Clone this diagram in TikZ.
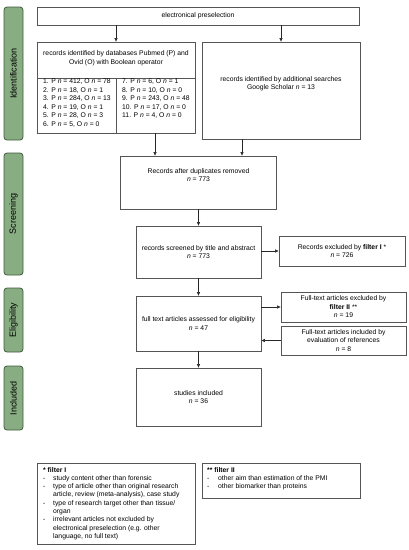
\documentclass[tikz,border=0pt]{standalone}
\usepackage{fontspec}
\setmainfont{Liberation Sans}
\usetikzlibrary{arrows.meta}
\definecolor{sidegreen}{HTML}{88AD82}
\definecolor{sideedge}{HTML}{3F5B3C}
\definecolor{boxedge}{HTML}{555555}
\begin{document}
\begin{tikzpicture}[x=1pt,y=-1pt,
 txt/.style={font=\fontsize{6.8}{8.5}\selectfont},
 box/.style={txt,draw=boxedge,line width=0.8pt,align=center,inner sep=2pt},
 side/.style={draw=sideedge,fill=sidegreen,rounded corners=3pt,line width=0.8pt,rotate=90,font=\fontsize{9}{10}\selectfont,minimum height=19pt,inner sep=0pt},
 arr/.style={-{Triangle[length=3.5pt,width=3pt]},black!85,line width=0.6pt},
 divline/.style={boxedge,line width=0.6pt}]
\useasboundingbox (0,0) rectangle (409,550);
% side bars
\node[side,minimum width=133pt] (sI) at (13.5,73.5) {Identification};
\node[side,minimum width=122pt] (sS) at (13.5,214) {Screening};
\node[side,minimum width=64pt] (sE) at (13.5,320) {Eligibility};
\node[side,minimum width=64pt] (sN) at (13.5,398) {Included};
% boxes
\node[box,minimum width=322pt,minimum height=18pt] (pre) at (198,16) {electronical preselection};
\node[box,minimum width=158pt,minimum height=91pt] (db) at (116,87.5) {};
\node[txt,align=center] (dbt) at (116,58) {records identified by databases Pubmed (P) and\\Ovid (O) with Boolean operator};
\draw[divline] (37,78) -- (195,78);
\draw[divline] (116,78) -- (116,133);
\node[txt,anchor=north west,inner sep=0pt,align=left] (l1) at (43,79) {1. P \textit{n} = 412, O \textit{n} = 78\\2. P \textit{n} = 18, O \textit{n} = 1\\3. P \textit{n} = 284, O \textit{n} = 13\\4. P \textit{n} = 19, O \textit{n} = 1\\5. P \textit{n} = 28, O \textit{n} = 3\\6. P \textit{n} = 5, O \textit{n} = 0};
\node[txt,anchor=north west,inner sep=0pt,align=left] (l2) at (122,79) {7. P \textit{n} = 6, O \textit{n} = 1\\8. P \textit{n} = 10, O \textit{n} = 0\\9. P \textit{n} = 243, O \textit{n} = 48\\10. P \textit{n} = 17, O \textit{n} = 0\\11. P \textit{n} = 4, O \textit{n} = 0};
\node[box,minimum width=158pt,minimum height=97pt] (gs) at (281,90.5) {records identified by additional searches\\Google Scholar \textit{n} = 13\\[6pt]};
\node[box,minimum width=156pt,minimum height=53pt] (dup) at (198.5,182.5) {Records after duplicates removed\\\textit{n} = 773\\[6pt]};
\node[box,minimum width=125pt,minimum height=52pt] (scr) at (198.5,252) {records screened by title and abstract\\\textit{n} = 773};
\node[box,minimum width=126pt,minimum height=30pt] (ex1) at (342,251) {Records excluded by \textbf{filter I} *\\\textit{n} = 726};
\node[box,minimum width=125pt,minimum height=55pt] (ft) at (198.5,323.5) {full text articles assessed for eligibility\\\textit{n} = 47};
\node[box,minimum width=125pt,minimum height=30pt] (ex2) at (343.5,307) {Full-text articles excluded by\\\textbf{filter II} **\\\textit{n} = 19};
\node[box,minimum width=125pt,minimum height=29pt] (inc) at (343.5,340.5) {Full-text articles included by\\evaluation of references\\\textit{n} = 8};
\node[box,minimum width=125pt,minimum height=58pt] (st) at (198.5,397) {studies included\\\textit{n} = 36};
% filter boxes
\node[box,minimum width=158pt,minimum height=81pt] (f1) at (116,503.5) {};
\node[txt,anchor=north west,inner sep=0pt,font=\fontsize{6.8}{8.3}\selectfont] (f1t) at (43,466) {\begin{tabular}{@{}p{10pt}@{}p{138pt}@{}}
\multicolumn{2}{@{}l}{\textbf{* filter I}}\\
- & study content other than forensic\\
- & type of article other than original research\newline article, review (meta-analysis), case study\\
- & type of research target other than tissue/\newline organ\\
- & irrelevant articles not excluded by\newline electronical preselection (e.g. other\newline language, no full text)
\end{tabular}};
\node[box,minimum width=158pt,minimum height=35pt] (f2) at (281,480.5) {};
\node[txt,anchor=north west,inner sep=0pt,font=\fontsize{6.8}{8.3}\selectfont] (f2t) at (207,466) {\begin{tabular}{@{}p{11pt}@{}p{138pt}@{}}
\multicolumn{2}{@{}l}{\textbf{** filter II}}\\
- & other aim than estimation of the PMI\\
- & other biomarker than proteins
\end{tabular}};
% connectors
\coordinate (c1) at (155,0);
\coordinate (c2) at (242,0);
\draw[arr] (pre.south -| db.north) -- (db.north);
\draw[arr] (pre.south -| gs.north) -- (gs.north);
\draw[arr] (db.south -| c1) -- (dup.north -| c1);
\draw[arr] (gs.south -| c2) -- (dup.north -| c2);
\draw[arr] (dup.south) -- (scr.north);
\draw[arr] (scr.east |- ex1.west) -- (ex1.west);
\draw[arr] (scr.south) -- (ft.north);
\draw[arr] (ft.east |- ex2.west) -- (ex2.west);
\draw[arr] (inc.west) -- (ft.east |- inc.west);
\draw[arr] (ft.south) -- (st.north);
\end{tikzpicture}
\end{document}
